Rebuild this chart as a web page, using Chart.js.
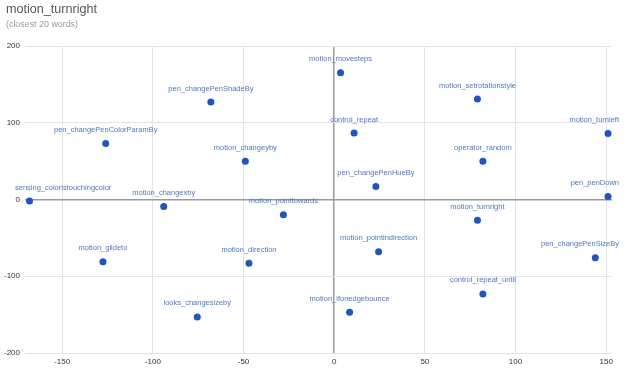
<!DOCTYPE html>
<html>
<head>
<meta charset="utf-8">
<script src="https://cdn.jsdelivr.net/npm/chart.js@4"></script>
<style>
    body { margin: 0; background: #fff; font-family: "Liberation Sans", Arial, sans-serif; }
    #caixa { position: relative; width: 628px; height: 383px; }
    #titulo { position: absolute; left: 6px; top: 2px; font-size: 12.6px; color: #555; }
    #subtitulo { position: absolute; left: 6px; top: 19px; font-size: 8.9px; color: #999; }
    canvas { position: absolute; left: 0; top: 0; }
</style>
</head>
<body>
<div id="caixa">
    <canvas id="graficoPalavras" width="628" height="383"></canvas>
    <div id="titulo">motion_turnright</div>
    <div id="subtitulo">(closest 20 words)</div>
</div>
<script>
// palavras e coordenadas
const palavras = [
    'sensing_coloristouchingcolor', 'pen_changePenColorParamBy', 'pen_changePenShadeBy',
    'motion_changeyby', 'motion_changexby', 'motion_pointtowards', 'motion_movesteps',
    'motion_setrotationstyle', 'control_repeat', 'motion_turnleft', 'operator_random',
    'pen_changePenHueBy', 'pen_penDown', 'motion_turnright', 'motion_glideto',
    'motion_direction', 'looks_changesizeby', 'motion_pointindirection',
    'pen_changePenSizeBy', 'control_repeat_until', 'motion_ifonedgebounce'
]
const valoresX = [-168, -126, -68, -49, -94, -28, 3.5, 79, 11, 151, 82, 23, 151, 79, -127.5, -47, -75.5, 24.5, 144, 82, 8.5]
const valoresY = [-2, 73, 127, 50, -9, -20, 165, 131, 86.5, 86, 50, 17, 4, -27, -81, -83, -153, -68, -76, -123, -147]
const ticksX = [-150, -100, -50, 0, 50, 100, 150]
const ticksY = [-200, -100, 0, 100, 200]

let pontos = []
for (let i = 0; i < palavras.length; i++) {
    pontos.push({ x: valoresX[i], y: valoresY[i] })
}

const fonte = '"Liberation Sans", Arial, sans-serif'

const rotulos = {
    id: 'rotulos',
    afterDatasetsDraw(chart) {
        const ctx = chart.ctx
        const meta = chart.getDatasetMeta(0)
        ctx.save()
        ctx.font = '7.5px ' + fonte
        ctx.fillStyle = '#4a78d8'
        ctx.textBaseline = 'middle'
        ctx.textAlign = 'left'
        meta.data.forEach(function (p, i) {
            const w = ctx.measureText(palavras[i]).width
            let x = p.x - w / 2
            if (x < 15) x = 15
            if (x + w > 619) x = 619 - w
            ctx.fillText(palavras[i], x, p.y - 13.5)
        })
        ctx.restore()
    }
}

function corGrade(c) {
    return c.tick && c.tick.value == 0 ? '#9a9a9a' : '#e4e4e4'
}

new Chart(document.getElementById('graficoPalavras'), {
    type: 'scatter',
    data: {
        datasets: [{
            data: pontos,
            backgroundColor: '#1a56c8',
            borderWidth: 0,
            pointRadius: 3.5,
            pointHoverRadius: 3.5
        }]
    },
    options: {
        responsive: false,
        animation: false,
        layout: { padding: { top: 46, right: 16, left: 0, bottom: 0 } },
        plugins: {
            legend: { display: false },
            tooltip: { enabled: false }
        },
        scales: {
            x: {
                type: 'linear',
                min: -170.5,
                max: 153.2,
                afterBuildTicks: function (s) { s.ticks = ticksX.map(v => ({ value: v })) },
                afterFit: function (s) { s.height = 30 },
                border: { display: false },
                grid: { color: corGrade, lineWidth: c => c.tick && c.tick.value == 0 ? 1.5 : 1, drawTicks: false },
                ticks: { padding: 4, color: '#333', font: { size: 8, family: fonte } }
            },
            y: {
                min: -200,
                max: 200,
                afterBuildTicks: function (s) { s.ticks = ticksY.map(v => ({ value: v })) },
                afterFit: function (s) { s.width = 25 },
                border: { display: false },
                grid: { color: corGrade, lineWidth: c => c.tick && c.tick.value == 0 ? 1.5 : 1, drawTicks: false },
                ticks: { padding: 5, color: '#333', font: { size: 8, family: fonte } }
            }
        }
    },
    plugins: [rotulos]
})
</script>
</body>
</html>
